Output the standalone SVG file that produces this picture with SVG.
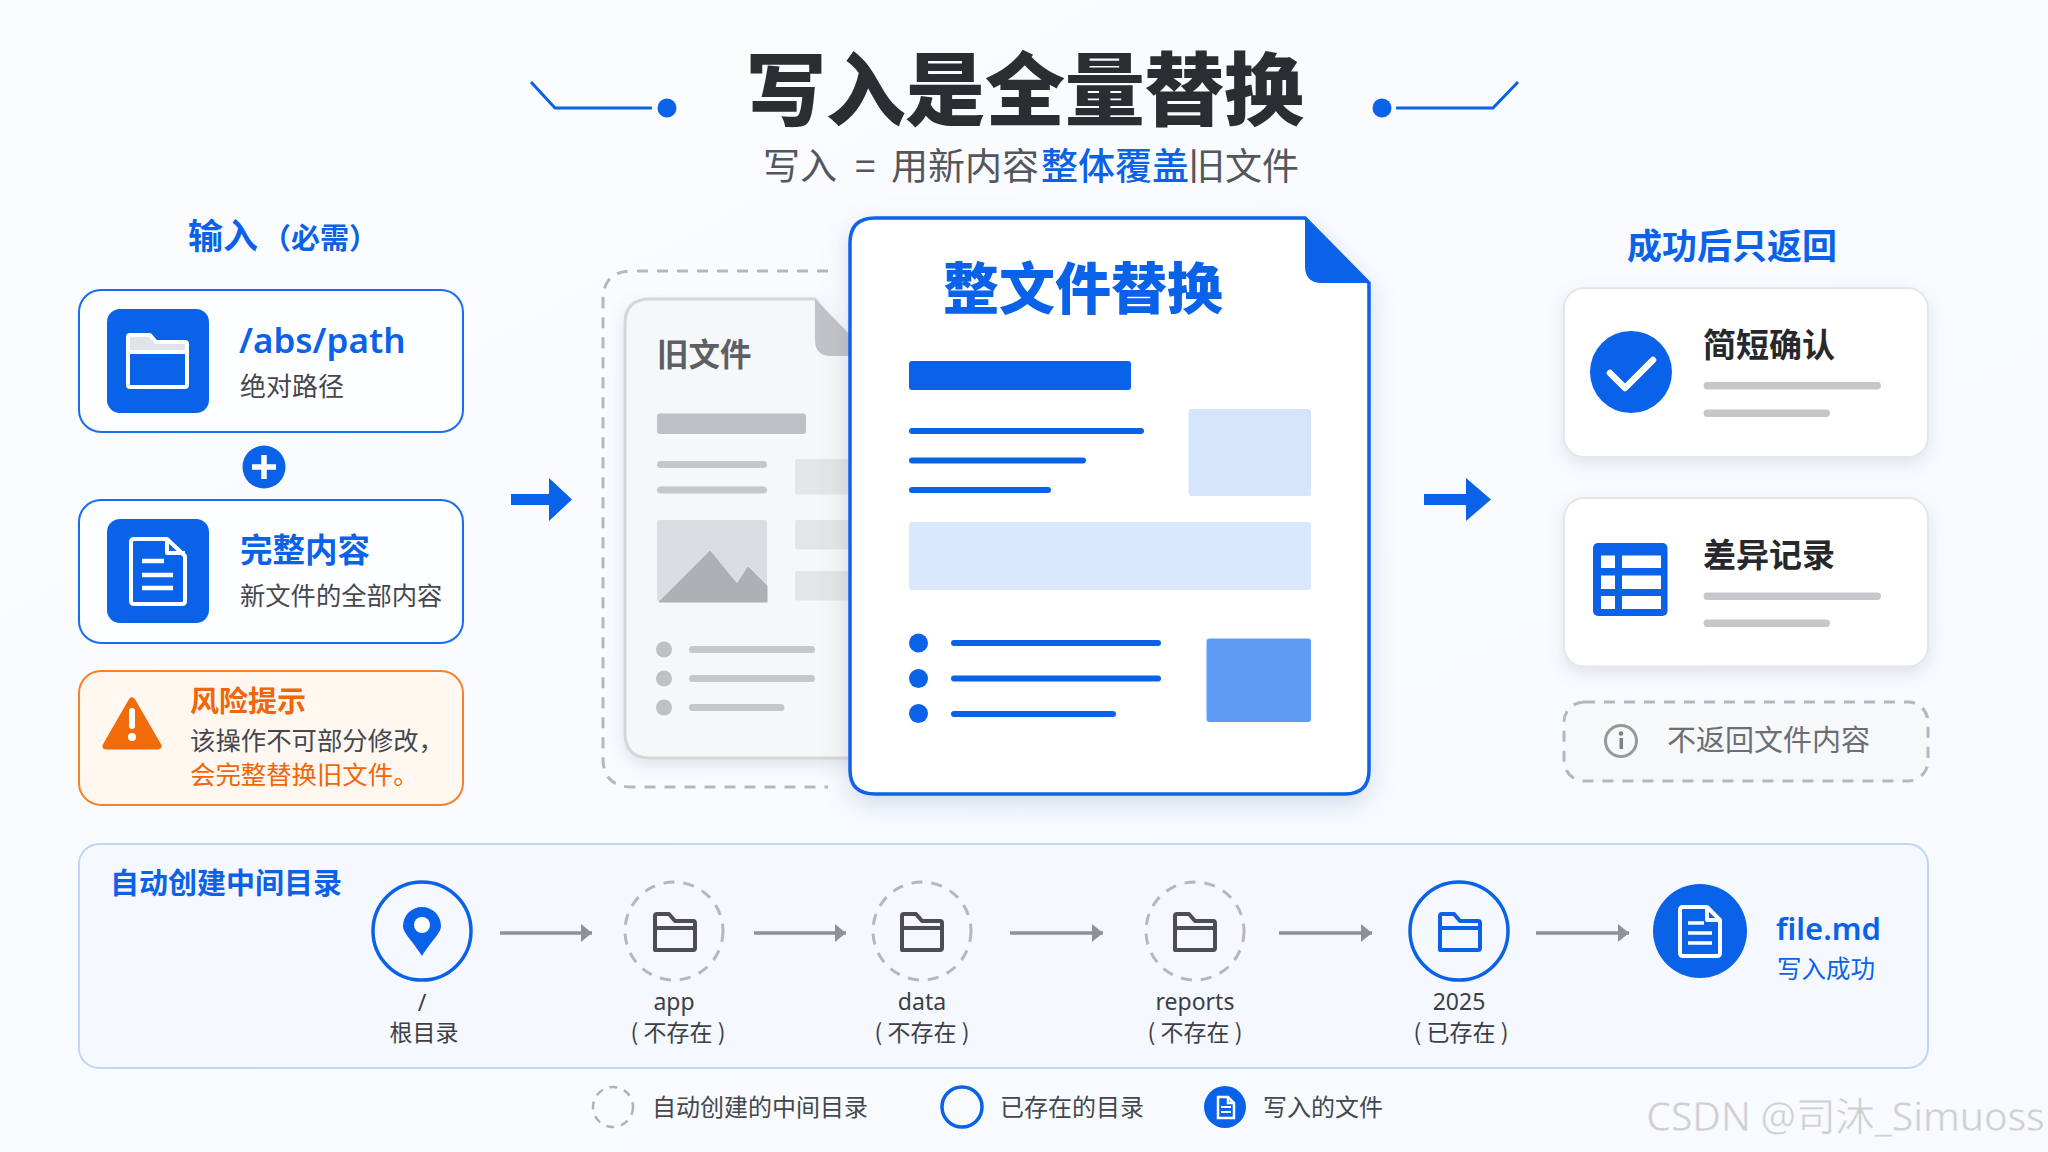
<svg xmlns="http://www.w3.org/2000/svg" xmlns:xlink="http://www.w3.org/1999/xlink" width="2048" height="1152" viewBox="0 0 2048 1152">
<defs>
<style>
text{font-family:"Noto Sans CJK SC","Noto Sans",sans-serif;}
.lat{font-family:"Noto Sans","Noto Sans CJK SC",sans-serif;}
.blue{fill:#0a62e8;}
.b{font-weight:700;}
.card{fill:#fdfeff;stroke:#1a6cf0;stroke-width:2;}
.rcard{fill:#fff;stroke:#e3e6ea;stroke-width:2;filter:url(#sh);}
.gl{fill:#c6c7ca;}
.bl{fill:#0a62e8;}
.g2{fill:#bfc0c3;}
.g3{fill:#e4e5e7;}
.dash{fill:none;stroke:#b5b7bb;stroke-width:3;stroke-dasharray:11 9;}
.circ{fill:none;stroke:#0a62e8;stroke-width:3.5;}
.lab{font-size:23px;fill:#3c3f45;text-anchor:middle;}
.leg{font-size:24px;fill:#44474d;}
.conn{stroke:#8e9196;stroke-width:3.5;fill:none;marker-end:url(#ah);}
.dk{color:#4c4e54;}
</style>
<linearGradient id="bg" x1="0" y1="0" x2="1" y2="1"><stop offset="0" stop-color="#fafcfe"/><stop offset="1" stop-color="#f7fafe"/></linearGradient>
<filter id="sh" x="-10%" y="-10%" width="120%" height="125%"><feDropShadow dx="0" dy="6" stdDeviation="8" flood-color="#6c7a90" flood-opacity="0.18"/></filter>
<filter id="sh2" x="-10%" y="-10%" width="120%" height="120%"><feDropShadow dx="0" dy="8" stdDeviation="12" flood-color="#5a7bb0" flood-opacity="0.25"/></filter>
<marker id="ah" markerUnits="userSpaceOnUse" markerWidth="12" markerHeight="18" refX="11" refY="9" orient="auto"><path d="M0 0L11 9L0 18Z" fill="#8e9196"/></marker>
<symbol id="folder" viewBox="0 0 46 42" overflow="visible"><path d="M3 39V5Q3 3 5 3H17L23 10H41Q43 10 43 12V37Q43 39 41 39H5Q3 39 3 37ZM3 17H43" fill="none" stroke="currentColor" stroke-width="4" stroke-linejoin="round"/></symbol>
</defs>
<rect width="2048" height="1152" fill="url(#bg)"/>

<g id="header">
<text x="746" y="119" font-size="80" font-weight="900" fill="#2b2d31" textLength="558">写入是全量替换</text>
<text y="180" font-size="37" fill="#53565c"><tspan x="763">写入</tspan><tspan x="855">=</tspan><tspan x="891">用新内容</tspan><tspan x="1041" fill="#0a62e8" font-weight="500">整体覆盖</tspan><tspan x="1188">旧文件</tspan></text>
<path d="M531 82L555 108H652M1518 82L1493 108H1396" fill="none" stroke="#0a62e8" stroke-width="3"/>
<circle cx="667" cy="108" r="9.5" class="bl"/><circle cx="1382" cy="108" r="9.5" class="bl"/>
</g>

<g id="input-heading"><text x="188" y="249" font-size="35" class="blue b">输入</text><text x="262" y="249" font-size="29" class="blue b">（必需）</text></g>

<g id="node-path">
<rect x="79" y="290" width="384" height="142" rx="22" class="card"/>
<rect x="107" y="309" width="102" height="104" rx="13" class="bl"/>
<path d="M128 352V337Q128 335 130 335H150L156 342H185Q187 342 187 344V352Z" fill="#dfe3ea"/>
<path d="M128 352V337Q128 335 130 335H150L156 342H185Q187 342 187 344V385Q187 387 185 387H130Q128 387 128 385ZM128 352H187" fill="none" stroke="#fff" stroke-width="4" stroke-linejoin="round"/>
<text x="239" y="353" font-size="35" class="lat blue" font-weight="600">/abs/path</text>
<text x="240" y="396" font-size="26" fill="#44474d">绝对路径</text>
</g>

<g id="node-plus"><circle cx="264" cy="467" r="21.5" class="bl"/><path d="M252 467H276M264 455V479" stroke="#fff" stroke-width="5.5"/></g>

<g id="node-content">
<rect x="79" y="500" width="384" height="143" rx="22" class="card"/>
<rect x="107" y="519" width="102" height="104" rx="13" class="bl"/>
<path d="M167 539H134Q131 539 131 542V601Q131 604 134 604H182Q185 604 185 601V556ZM167 539V553H185" fill="none" stroke="#fff" stroke-width="4" stroke-linejoin="round"/>
<path d="M142 561H164M142 575H173M142 588H173" stroke="#fff" stroke-width="4.5"/>
<text x="240" y="562" font-size="32.5" class="blue b">完整内容</text>
<text x="240" y="605" font-size="25.3" fill="#44474d">新文件的全部内容</text>
</g>

<g id="node-warning">
<rect x="79" y="671" width="384" height="134" rx="22" fill="#fff7f0" stroke="#f5822a" stroke-width="2"/>
<path d="M132 701L158 746H106Z" fill="#f26b0a" stroke="#f26b0a" stroke-width="7" stroke-linejoin="round"/>
<rect x="129" y="708" width="6" height="21" rx="3" fill="#fff"/><circle cx="132" cy="737" r="4" fill="#fff"/>
<text x="190" y="712" font-size="29" fill="#f0660a" class="b">风险提示</text>
<text x="190" y="750" font-size="25.4" fill="#44474d">该操作不可部分修改，</text>
<text x="190" y="784" font-size="25.4" fill="#f0660a">会完整替换旧文件。</text>
</g>

<g id="old-file">
<path d="M828 271H632Q603 271 603 300V758Q603 787 632 787H828" class="dash"/>
<path d="M650 299H815L870 370V758H650Q625 758 625 733V324Q625 299 650 299Z" fill="#f6f7f8" stroke="#d5d6d8" stroke-width="3" filter="url(#sh)"/>
<path d="M815 299V340Q815 356 831 356H865V350Z" fill="#c2c3c6"/>
<text x="657" y="366" font-size="31.5" fill="#5d5f64" class="b" font-weight="500">旧文件</text>
<rect x="657" y="413.500" width="149" height="20.500" rx="3" class="g2"/>
<rect x="657" y="461" width="110" height="7" rx="3.500" class="gl"/><rect x="657" y="486.500" width="110" height="7" rx="3.500" class="gl"/>
<rect x="795" y="459" width="65" height="35.500" rx="2" class="g3"/><rect x="795" y="520" width="65" height="29.500" rx="2" class="g3"/><rect x="795" y="571" width="65" height="29.500" rx="2" class="g3"/>
<rect x="657" y="520" width="110" height="82" rx="3" fill="#dcdde0"/>
<path d="M659 602L710 551L737 584L748 567L767 586V602Z" fill="#aeb0b3" stroke="#aeb0b3" stroke-linejoin="round"/>
<circle cx="664" cy="649.500" r="8" class="g2"/><circle cx="664" cy="678.500" r="8" class="g2"/><circle cx="664" cy="707.500" r="8" class="g2"/>
<rect x="689" y="646" width="126" height="7" rx="3.500" class="gl"/><rect x="689" y="675" width="126" height="7" rx="3.500" class="gl"/><rect x="689" y="704" width="95.500" height="7" rx="3.500" class="gl"/>
</g>

<g id="new-file">
<path d="M875 218H1305L1369 283V770Q1369 794 1345 794H875Q850 794 850 770V243Q850 218 875 218Z" fill="#fff" stroke="#0a62e8" stroke-width="3.500" filter="url(#sh2)"/>
<path d="M1305 219L1369 283H1322Q1305 283 1305 266Z" class="bl"/>
<text x="943" y="309" font-size="56" class="blue" font-weight="900">整文件替换</text>
<rect x="909" y="361" width="222" height="29" rx="3" class="bl"/>
<rect x="909" y="428" width="235" height="6" rx="3" class="bl"/><rect x="909" y="457.500" width="177" height="6" rx="3" class="bl"/><rect x="909" y="487" width="142" height="6" rx="3" class="bl"/>
<rect x="1188.500" y="409" width="122.500" height="87" rx="3" fill="#d5e5fc"/>
<rect x="909" y="522" width="402" height="68" rx="3" fill="#d9e8fd"/>
<circle cx="918.500" cy="643" r="9.500" class="bl"/><circle cx="918.500" cy="678.500" r="9.500" class="bl"/><circle cx="918.500" cy="713.500" r="9.500" class="bl"/>
<rect x="951" y="640" width="210" height="6" rx="3" class="bl"/><rect x="951" y="675.500" width="210" height="6" rx="3" class="bl"/><rect x="951" y="711" width="165" height="6" rx="3" class="bl"/>
<rect x="1206.500" y="638.500" width="104.500" height="83.500" rx="3" fill="#5f9bf5"/>
</g>

<g id="output-heading"><text x="1627" y="259" font-size="35" class="blue b">成功后只返回</text></g>

<g id="node-confirm">
<rect x="1564" y="288" width="364" height="169" rx="20" class="rcard"/>
<circle cx="1631" cy="372" r="41" class="bl"/>
<path d="M1610 373L1625 388L1653 360" fill="none" stroke="#fff" stroke-width="6.500" stroke-linecap="round" stroke-linejoin="round"/>
<text x="1703" y="357" font-size="33" fill="#26282c" class="b">简短确认</text>
<rect x="1703.500" y="382" width="177.500" height="7.500" rx="3.700" class="gl"/><rect x="1703.500" y="409.500" width="126.500" height="7.500" rx="3.700" class="gl"/>
</g>

<g id="node-diff">
<rect x="1564" y="498" width="364" height="168.500" rx="20" class="rcard"/>
<rect x="1593" y="543" width="74.500" height="73" rx="5" class="bl"/>
<path d="M1601 555.500h14v12.500h-14zM1622 555.500h39v12.500h-39zM1601 575.500h14v13.500h-14zM1622 575.500h39v13.500h-39zM1601 596h14v13h-14zM1622 596h39v13h-39z" fill="#fff"/>
<text x="1703" y="567" font-size="33" fill="#26282c" class="b">差异记录</text>
<rect x="1703.500" y="592.500" width="177.500" height="7.500" rx="3.700" class="gl"/><rect x="1703.500" y="619.500" width="126.500" height="7.500" rx="3.700" class="gl"/>
</g>

<g id="node-noreturn">
<rect x="1564" y="702" width="364" height="79" rx="20" fill="#f7f8fa" stroke="#b5b7bb" stroke-width="3" stroke-dasharray="11 9"/>
<circle cx="1621" cy="741" r="15.500" fill="none" stroke="#96989c" stroke-width="3"/>
<rect x="1619.500" y="738" width="3.500" height="11" fill="#7e8085"/><circle cx="1621" cy="733.500" r="2.300" fill="#7e8085"/>
<text x="1667" y="751" font-size="29" fill="#6c6e73">不返回文件内容</text>
</g>

<g id="main-connectors">
<path d="M511 494H549V478L572 499.500L549 521V505H511Z" class="bl"/>
<path d="M1424 494H1466V478L1491 499.500L1466 521V505H1424Z" class="bl"/>
</g>

<g id="panel">
<rect x="79" y="844" width="1849" height="224" rx="20" fill="#f5f8fe" stroke="#bdd6fa" stroke-width="2"/>
<text x="110" y="894" font-size="29" class="blue b">自动创建中间目录</text>
</g>

<g id="path-connectors">
<path d="M500 933H592" class="conn"/><path d="M754 933H846" class="conn"/><path d="M1010 933H1103" class="conn"/><path d="M1279 933H1372" class="conn"/><path d="M1536 933H1629" class="conn"/>
</g>

<g id="dir-root">
<circle cx="422" cy="931" r="49" class="circ"/>
<path d="M422 956C412 940 403 933 403 926A19 19 0 1 1 441 926C441 933 432 940 422 956Z" class="bl"/><circle cx="422" cy="925" r="8" fill="#fff"/>
<text x="422" y="1011" class="lab lat">/</text><text x="424" y="1041" class="lab">根目录</text>
</g>
<g id="dir-app">
<circle cx="674" cy="931" r="49" class="dash" stroke-dasharray="11 9"/>
<use href="#folder" x="652" y="911" width="46" height="42" class="dk"/>
<text x="674" y="1010" class="lab lat">app</text><text x="678" y="1041" class="lab">( 不存在 )</text>
</g>
<g id="dir-data">
<circle cx="922" cy="931" r="49" class="dash"/>
<use href="#folder" x="899" y="911" width="46" height="42" class="dk"/>
<text x="922" y="1010" class="lab lat">data</text><text x="922" y="1041" class="lab">( 不存在 )</text>
</g>
<g id="dir-reports">
<circle cx="1195" cy="931" r="49" class="dash"/>
<use href="#folder" x="1172" y="911" width="46" height="42" class="dk"/>
<text x="1195" y="1010" class="lab lat">reports</text><text x="1195" y="1041" class="lab">( 不存在 )</text>
</g>
<g id="dir-2025">
<circle cx="1459" cy="931" r="49" class="circ"/>
<use href="#folder" x="1437" y="911" width="46" height="42" color="#0a62e8"/>
<text x="1459" y="1010" class="lab lat">2025</text><text x="1461" y="1041" class="lab">( 已存在 )</text>
</g>
<g id="file-md">
<circle cx="1700" cy="931" r="47" class="bl"/>
<path d="M1707 907H1683Q1680 907 1680 910V953Q1680 956 1683 956H1717Q1720 956 1720 953V920ZM1707 907V920H1720" fill="none" stroke="#fff" stroke-width="4" stroke-linejoin="round"/>
<path d="M1688 923H1704M1688 933H1712M1688 943H1712" stroke="#fff" stroke-width="3.500"/>
<text x="1776" y="940" font-size="31" class="lat blue" font-weight="600">file.md</text>
<text x="1777" y="978" font-size="24.500" class="blue">写入成功</text>
</g>

<g id="legend">
<circle cx="613" cy="1107" r="20" fill="none" stroke="#b0b2b6" stroke-width="2.500" stroke-dasharray="8 7"/>
<text x="652" y="1116" class="leg" font-size="24">自动创建的中间目录</text>
<circle cx="962" cy="1107" r="20" class="circ" stroke-width="3"/>
<text x="1000" y="1116" class="leg">已存在的目录</text>
<circle cx="1225" cy="1107" r="21" class="bl"/>
<path d="M1228 1097H1218V1118H1234V1103ZM1228 1097V1103H1234" fill="none" stroke="#fff" stroke-width="2.500"/><path d="M1221 1107H1231M1221 1112H1231" stroke="#fff" stroke-width="2"/>
<text x="1263" y="1116" class="leg">写入的文件</text>
</g>

<g id="watermark"><text x="1646" y="1131" font-size="40" fill="#cfd0d2" stroke="#fff" stroke-width="0.500" textLength="399" class="lat">CSDN @司沐_Simuoss</text></g>
</svg>
